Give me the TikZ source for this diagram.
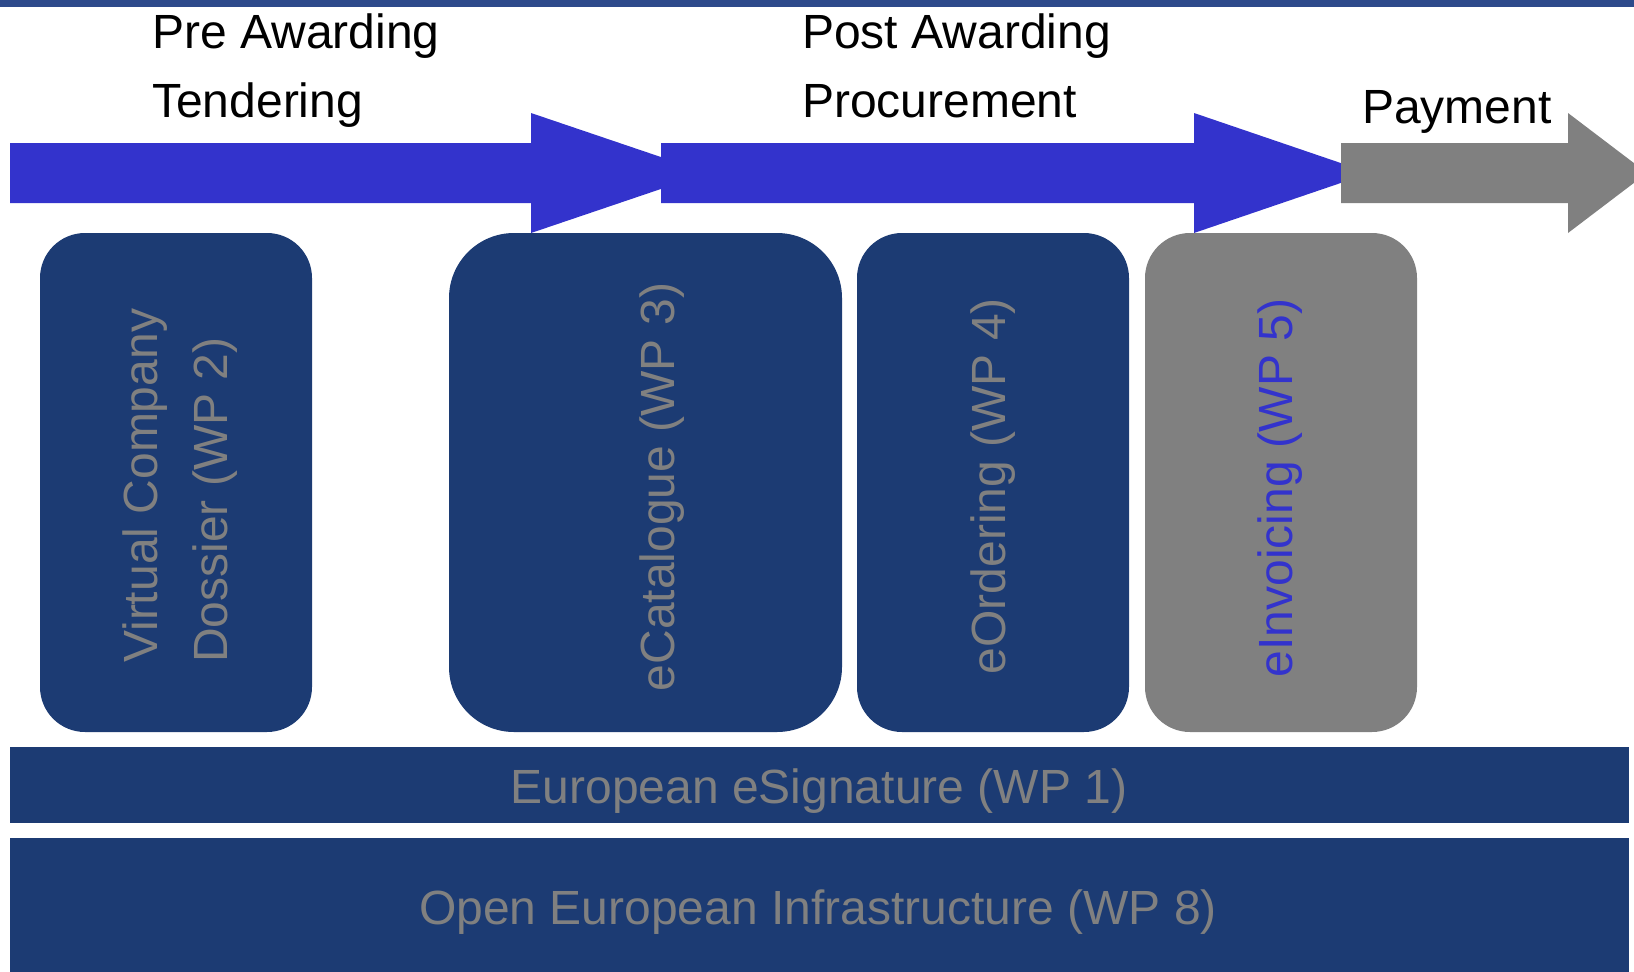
\documentclass[tikz,border=0pt]{standalone}
\usepackage{fontspec}
\setmainfont{Liberation Sans}
\usepackage{xcolor}
\usepackage{tikz}

\definecolor{wpnavy}{HTML}{1C3B73}
\definecolor{flowblue}{HTML}{3333CC}
\definecolor{flowgray}{HTML}{808080}
\definecolor{topline}{HTML}{2D4A8B}

\begin{document}
\begin{tikzpicture}[x=1pt, y=-1pt,
    wpbox/.style={rectangle, rounded corners=45pt, fill=wpnavy, inner sep=0pt, minimum width=272pt, minimum height=499pt},
    layer/.style={rectangle, fill=wpnavy, inner sep=0pt, minimum width=1619pt},
    phase/.style={inner sep=0pt, anchor=base west, font=\fontsize{48pt}{58pt}\selectfont, text=black},
    wptext/.style={inner sep=0pt, rotate=90, font=\fontsize{48pt}{58pt}\selectfont, text=flowgray},
    layertext/.style={inner sep=0pt, anchor=base, font=\fontsize{48pt}{58pt}\selectfont, text=flowgray}
]
\useasboundingbox (0,0) rectangle (1634,972);
\clip (0,0) rectangle (1634,972);

% Top line
\fill[topline] (0,0) rectangle (1634,7);

% Process arrows
\fill[flowblue] (10,143) -- (531,143) -- (531,113) -- (708,173) -- (531,233) -- (531,203) -- (10,203) -- cycle;
\fill[flowblue] (661,143) -- (1194,143) -- (1194,113) -- (1370,173) -- (1194,233) -- (1194,203) -- (661,203) -- cycle;
\fill[flowgray] (1341,143) -- (1568,143) -- (1568,113) -- (1647,173) -- (1568,233) -- (1568,203) -- (1341,203) -- cycle;

% Phase labels
\node[phase] (pre) at (152,48) {Pre Awarding};
\node[phase] (tender) at (152,117) {Tendering};
\node[phase] (post) at (802,48) {Post Awarding};
\node[phase] (procure) at (802,117) {Procurement};
\node[phase] (pay) at (1362,123) {Payment};

% Work packages
\node[wpbox] (vcd) at (176,482.5) {};
\node[wpbox, rounded corners=65pt, minimum width=393pt] (ecat) at (645.5,482.5) {};
\node[wpbox] (eord) at (993,482.5) {};
\node[wpbox, fill=flowgray] (einv) at (1281,482.5) {};

\node[wptext, anchor=base west] (vcdA) at (157,663) {Virtual Company};
\node[wptext, anchor=base west] (vcdB) at (227,663) {Dossier (WP 2)};
\node[wptext, anchor=base] (ecatT) at (674,487) {eCatalogue (WP 3)};
\node[wptext, anchor=base] (eordT) at (1005,486) {eOrdering (WP 4)};
\node[wptext, anchor=base, text=flowblue] (einvT) at (1292,488) {eInvoicing (WP 5)};

% Base layers
\node[layer, minimum height=76pt] (esig) at (819.5,785) {};
\node[layer, minimum height=152pt] (infra) at (819.5,914) {};
\node[layertext] (esigT) at (819,803) {European eSignature (WP 1)};
\node[layertext] (infraT) at (818,924) {Open European Infrastructure (WP 8)};

\end{tikzpicture}
\end{document}
